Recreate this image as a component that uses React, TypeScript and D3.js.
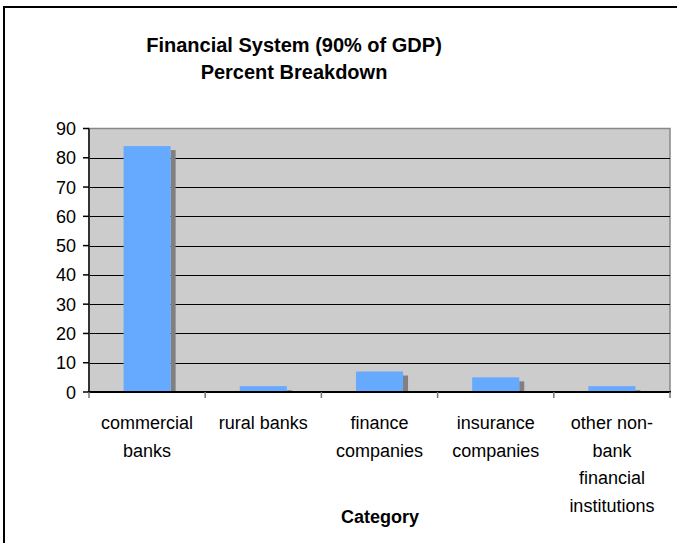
import React from "react";
import * as d3 from "d3";

const categories: string[][] = [
  ["commercial", "banks"],
  ["rural banks"],
  ["finance", "companies"],
  ["insurance", "companies"],
  ["other non-", "bank", "financial", "institutions"],
];
const values: number[] = [84, 2, 7, 5, 2];
const yTicks: number[] = [0, 10, 20, 30, 40, 50, 60, 70, 80, 90];
const titleLines: string[] = ["Financial System (90% of GDP)", "Percent Breakdown"];
const xTitle = "Category";

export default function App() {
  const W = 677, H = 543;
  const left = 89, right = 670, top = 128.5, bottom = 392;
  const x = d3.scaleBand<number>().domain(values.map((_, i) => i)).range([left, right]).paddingInner(0).paddingOuter(0);
  const y = d3.scaleLinear().domain([0, 90]).range([bottom, top]);
  const bw = x.bandwidth() * 0.405;
  const font = "'Liberation Sans', Arial, sans-serif";
  const tickXs = d3.range(values.length + 1).map((i) => left + i * x.bandwidth());
  return (
    <svg width={W} height={H} style={{ position: "absolute", left: 0, top: 0 }} fontFamily={font}>
      <rect x={0} y={0} width={W} height={H} fill="#fff" />
      <rect x={4} y={7} width={W + 10} height={H + 10} fill="none" stroke="#000" strokeWidth={2} />
      {titleLines.map((t, i) => (
        <text key={i} x={294} y={52 + i * 27} textAnchor="middle" fontSize={20} fontWeight="bold" fill="#000">{t}</text>
      ))}
      <rect x={left} y={top} width={right - left} height={bottom - top} fill="#cccccc" stroke="#888" strokeWidth={1.5} />
      {yTicks.filter((t) => t > 0 && t < 90).map((t) => (
        <line key={t} x1={left} x2={right} y1={Math.round(y(t)) + 0.5} y2={Math.round(y(t)) + 0.5} stroke="#000" strokeWidth={1} />
      ))}
      {values.map((v, i) => {
        const cx = (x(i) as number) + x.bandwidth() / 2;
        const bx = cx - bw / 2;
        const shTop = Math.min(y(v) + 4, bottom);
        return (
          <g key={i}>
            <rect x={bx + bw} y={shTop} width={5} height={bottom - shTop} fill="#808080" />
            <rect x={bx} y={y(v)} width={bw} height={bottom - y(v)} fill="#66aaff" />
          </g>
        );
      })}
      <line x1={left} x2={left} y1={top} y2={bottom} stroke="#333" strokeWidth={2} />
      <line x1={left - 1} x2={right + 1} y1={bottom} y2={bottom} stroke="#000" strokeWidth={2} />
      {yTicks.map((t) => (
        <g key={t}>
          <line x1={left - 6} x2={left} y1={y(t)} y2={y(t)} stroke="#000" strokeWidth={1.5} />
          <text x={76} y={y(t) + 6.5} textAnchor="end" fontSize={18} fill="#000">{t}</text>
        </g>
      ))}
      {tickXs.map((tx, i) => (
        <line key={i} x1={tx} x2={tx} y1={bottom} y2={bottom + 6} stroke="#777" strokeWidth={1.5} />
      ))}
      {categories.map((lines, i) => {
        const cx = (x(i) as number) + x.bandwidth() / 2;
        return (
          <text key={i} textAnchor="middle" fontSize={18} fill="#000">
            {lines.map((l, j) => (
              <tspan key={j} x={cx} y={429 + j * 27.5}>{l}</tspan>
            ))}
          </text>
        );
      })}
      <text x={380} y={523} textAnchor="middle" fontSize={18} fontWeight="bold" fill="#000">{xTitle}</text>
    </svg>
  );
}
